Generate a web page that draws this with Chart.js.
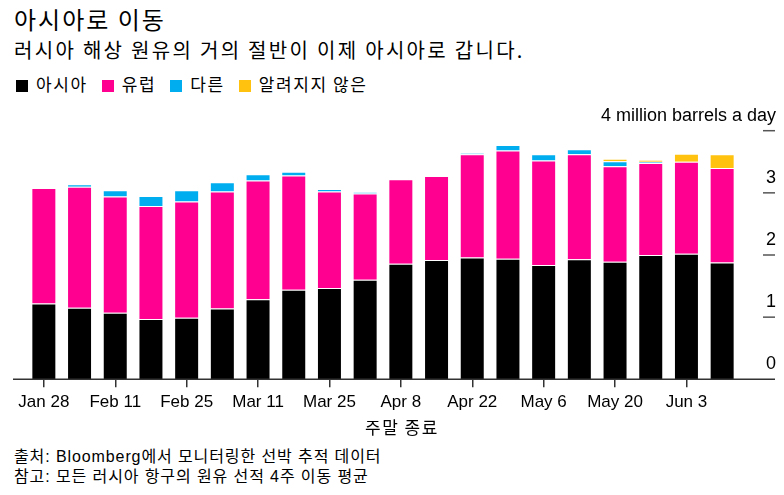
<!DOCTYPE html>
<html>
<head>
<meta charset="utf-8">
<script src="https://cdn.jsdelivr.net/npm/chart.js@4/dist/chart.umd.min.js"></script>
<style>
  body { margin: 0; width: 784px; height: 495px; background: #fff; position: relative; overflow: hidden;
         font-family: "Liberation Sans", "Noto Sans CJK KR", sans-serif; color: #000; }
  .t { position: absolute; left: 14px; white-space: nowrap; }
  #title { top: 5px; font-size: 24px; line-height: 28px; letter-spacing: 2px; font-family: "Noto Sans CJK KR", sans-serif; }
  #sub { top: 38px; font-size: 20px; line-height: 24px; letter-spacing: 2.3px; font-family: "Noto Sans CJK KR", sans-serif; }
  #legend { top: 73px; font-size: 17px; line-height: 22px; letter-spacing: 1.6px; font-family: "Noto Sans CJK KR", sans-serif; }
  #legend span.sw { display: inline-block; width: 12px; height: 12px; margin-left: 2px; margin-right: 8px; vertical-align: -1px; }
  #legend span.it { margin-right: 12px; }
  #xtitle { position: absolute; left: 365px; top: 416px; font-size: 17px; line-height: 22px; letter-spacing: 1.5px; font-family: "Noto Sans CJK KR", sans-serif; }
  #foot { top: 447px; font-size: 16px; line-height: 20px; letter-spacing: 0.9px; font-family: "Liberation Sans", "Noto Sans CJK KR", sans-serif; }
  #wrap { position: absolute; left: 0; top: 95px; width: 784px; height: 320px; }
</style>
</head>
<body>
<div class="t" id="title">아시아로 이동</div>
<div class="t" id="sub">러시아 해상 원유의 거의 절반이 이제 아시아로 갑니다.</div>
<div class="t" id="legend"></div>
<div id="wrap"><canvas id="chartRusia"></canvas></div>
<div id="xtitle">주말 종료</div>
<div class="t" id="foot">출처: Bloomberg에서 모니터링한 선박 추적 데이터<br>참고: 모든 러시아 항구의 원유 선적 4주 이동 평균</div>
<script>
// semanas (fin de semana)
const semanas = ['Jan 28','Feb 4','Feb 11','Feb 18','Feb 25','Mar 4','Mar 11','Mar 18','Mar 25','Apr 1',
                 'Apr 8','Apr 15','Apr 22','Apr 29','May 6','May 13','May 20','May 27','Jun 3','Jun 10']

// millones de barriles por dia
const asia     = [1.22, 1.15, 1.07, 0.97, 0.99, 1.14, 1.29, 1.44, 1.47, 1.60, 1.86, 1.92, 1.96, 1.94, 1.84, 1.93, 1.89, 2.00, 2.02, 1.88]
const europa   = [1.86, 1.95, 1.87, 1.82, 1.87, 1.88, 1.91, 1.84, 1.55, 1.39, 1.36, 1.35, 1.66, 1.74, 1.68, 1.69, 1.54, 1.48, 1.48, 1.52]
const otros    = [0, 0.04, 0.10, 0.16, 0.18, 0.15, 0.10, 0.06, 0.04, 0.02, 0, 0, 0.02, 0.09, 0.10, 0.08, 0.08, 0.02, 0, 0]
const sinDatos = [0, 0, 0, 0, 0, 0, 0, 0, 0, 0, 0, 0, 0, 0, 0, 0, 0.04, 0.03, 0.13, 0.22]

const nombres = ['아시아', '유럽', '다른', '알려지지 않은']
const colores = ['#000000', '#ff0090', '#00aeef', '#ffc20e']

const yTicks = [0, 1, 2, 3, 4]
const yTopLabel = '4 million barrels a day'

// leyenda
const legend = document.getElementById('legend')
nombres.forEach((n, i) => {
    legend.innerHTML += `<span class="it"><span class="sw" style="background:${colores[i]}"></span>${n}</span>`
})

// eje derecho y linea base
const ejeDerecho = {
    id: 'ejeDerecho',
    afterDraw(chart) {
        const { ctx, scales: { x, y } } = chart
        const derecha = 775
        ctx.save()
        ctx.strokeStyle = '#333'
        ctx.lineWidth = 1.5
        const base = y.getPixelForValue(0)
        ctx.beginPath()
        ctx.moveTo(13, base)
        ctx.lineTo(derecha, base)
        ctx.stroke()

        ctx.fillStyle = '#000'
        ctx.font = '18px "Liberation Sans", Arial, sans-serif'
        ctx.textAlign = 'right'
        ctx.textBaseline = 'alphabetic'
        yTicks.forEach(v => {
            const py = y.getPixelForValue(v)
            if (v > 0) {
                ctx.strokeStyle = '#555'
                ctx.lineWidth = 1.5
                ctx.beginPath()
                ctx.moveTo(derecha - 12, py)
                ctx.lineTo(derecha, py)
                ctx.stroke()
            }
            const txt = v === yTicks[yTicks.length - 1] ? yTopLabel : String(v)
            ctx.fillText(txt, derecha + 1, py - 10)
        })
        ctx.restore()
    }
}

const conjuntos = [asia, europa, otros, sinDatos].map((d, i) => ({
    label: nombres[i],
    data: d,
    backgroundColor: colores[i],
    borderColor: 'rgba(255,255,255,0.45)',
    borderWidth: c => (c.raw > 0 ? 1 : 0),
    borderSkipped: 'start',
    barPercentage: 0.7,
    categoryPercentage: 1
}))

const canvas = document.getElementById('chartRusia')
const context = canvas.getContext('2d')

const chartRusia = new Chart(context, {
    type: 'bar',
    data: {
        labels: semanas,
        datasets: conjuntos
    },
    options: {
        responsive: true,
        maintainAspectRatio: false,
        animation: false,
        layout: { padding: { left: 26, right: 44, top: 35.7, bottom: 0 } },
        plugins: {
            legend: { display: false },
            tooltip: { enabled: false }
        },
        scales: {
            x: {
                stacked: true,
                border: { display: false },
                grid: {
                    offset: false,
                    drawOnChartArea: false,
                    drawTicks: true,
                    tickLength: 8,
                    lineWidth: 1.5,
                    tickColor: c => (c.index % 2 === 0 ? '#333' : 'rgba(0,0,0,0)')
                },
                ticks: {
                    autoSkip: false,
                    maxRotation: 0,
                    padding: 5,
                    color: '#000',
                    font: { family: '"Liberation Sans", Arial, sans-serif', size: 17 },
                    callback: (v, i) => (i % 2 === 0 ? semanas[i] : '')
                },
                afterFit: scale => { scale.height = 35.7 }
            },
            y: {
                stacked: true,
                display: false,
                min: 0,
                max: 4
            }
        }
    },
    plugins: [ejeDerecho]
})
</script>
</body>
</html>
